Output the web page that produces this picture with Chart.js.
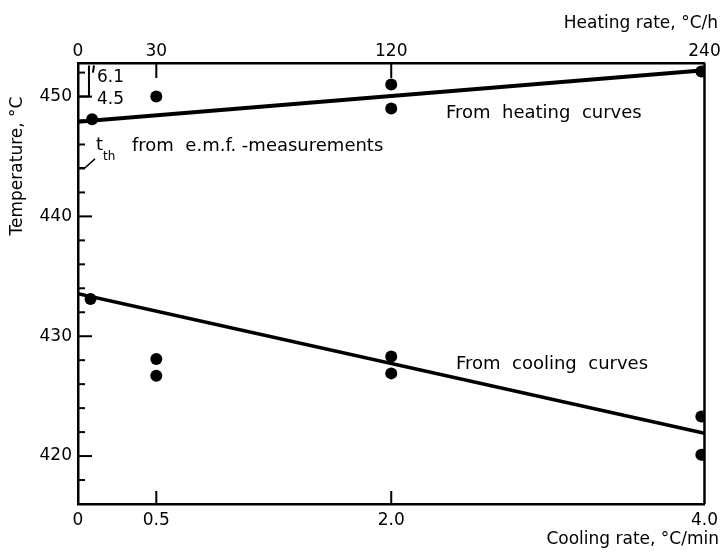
<!DOCTYPE html>
<html>
<head>
<meta charset="utf-8">
<script src="https://cdn.jsdelivr.net/npm/chart.js@4"></script>
<style>
  html, body { margin: 0; padding: 0; background: #fff; }
  #wrap { width: 724px; height: 554px; }
</style>
</head>
<body>
<div id="wrap"><canvas id="chart"></canvas></div>
<script>
// cooling rate in °C/min (bottom axis), heating rate in °C/h shares the same positions (top axis)
var coolTicks = [0, 0.5, 2.0, 4.0];
var coolTickLabels = ['0', '0.5', '2.0', '4.0'];
var heatTickLabels = ['0', '30', '120', '240'];
var tempLabels = [420, 430, 440, 450];

// measured points, heating curves
var heatX = [0.09, 0.5, 2.0, 2.0, 3.98];
var heatY = [448.1, 450.0, 451.0, 449.0, 452.1];
// measured points, cooling curves
var coolX = [0.08, 0.5, 0.5, 2.0, 2.0, 3.98, 3.98];
var coolY = [433.1, 428.1, 426.7, 428.3, 426.9, 423.3, 420.1];

// straight lines drawn through them
var heatFitX = [0, 4];
var heatFitY = [447.9, 452.2];
var coolFitX = [0, 4];
var coolFitY = [433.55, 421.9];

function pairs(xs, ys) {
  return xs.map(function(x, i) { return {x: x, y: ys[i]}; });
}

var FONT = '"DejaVu Sans", sans-serif';

var extras = {
  id: 'extras',
  afterDraw: function(chart) {
    var ctx = chart.ctx;
    var a = chart.chartArea;
    var x = chart.scales.x, y = chart.scales.y;
    ctx.save();
    ctx.strokeStyle = '#000';
    ctx.fillStyle = '#000';
    ctx.lineCap = 'butt';

    // right border
    ctx.lineWidth = 2.5;
    ctx.beginPath();
    ctx.moveTo(a.right, a.top);
    ctx.lineTo(a.right, a.bottom);
    ctx.stroke();

    // inward ticks on temperature axis
    ctx.lineWidth = 2;
    y.ticks.forEach(function(t) {
      var py = y.getPixelForValue(t.value);
      var len = tempLabels.indexOf(t.value) >= 0 ? 14 : 7;
      ctx.beginPath();
      ctx.moveTo(a.left, py);
      ctx.lineTo(a.left + len, py);
      ctx.stroke();
    });
    // inward ticks on rate axes
    coolTicks.slice(1, -1).forEach(function(v) {
      var px = x.getPixelForValue(v);
      ctx.beginPath();
      ctx.moveTo(px, a.bottom);
      ctx.lineTo(px, a.bottom - 13);
      ctx.moveTo(px, a.top);
      ctx.lineTo(px, a.top + 15);
      ctx.stroke();
    });

    // bracket near the origin (6.1 / 4.5)
    var bx = x.getPixelForValue(0.07);
    ctx.beginPath();
    ctx.moveTo(a.left, y.getPixelForValue(450));
    ctx.lineTo(bx, y.getPixelForValue(450));
    ctx.lineTo(bx, y.getPixelForValue(452.6));
    ctx.moveTo(bx + 5, y.getPixelForValue(452.6));
    ctx.lineTo(bx + 4, y.getPixelForValue(452.0));
    ctx.stroke();

    // leader from t_th label to axis
    var ly = y.getPixelForValue(444.05);
    ctx.lineWidth = 1.5;
    ctx.beginPath();
    ctx.moveTo(a.left, ly);
    ctx.lineTo(a.left + 7, ly);
    ctx.lineTo(a.left + 17, ly - 9);
    ctx.stroke();

    ctx.textBaseline = 'middle';
    ctx.textAlign = 'left';
    ctx.font = '17px ' + FONT;
    ctx.fillText('6.1', 97, 78);
    ctx.fillText('4.5', 97, 100);

    ctx.font = '18px ' + FONT;
    ctx.fillText('t', 96, 145);
    ctx.font = '12px ' + FONT;
    ctx.fillText('th', 103, 157);
    ctx.font = '18px ' + FONT;
    ctx.fillText('from  e.m.f. -measurements', 132, 146);

    ctx.fillText('From  heating  curves', 446, 113);
    ctx.fillText('From  cooling  curves', 456, 364);

    // axis titles
    ctx.font = '17px ' + FONT;
    ctx.textAlign = 'right';
    ctx.fillText('Heating rate, \u00b0C/h', 718, 24);
    ctx.fillText('Cooling rate, \u00b0C/min', 719, 540);

    ctx.translate(18, 166);
    ctx.rotate(-Math.PI / 2);
    ctx.textAlign = 'center';
    ctx.fillText('Temperature, \u00b0C', 0, 0);
    ctx.restore();
  }
};

var ctx = document.getElementById('chart').getContext('2d');
var chart = new Chart(ctx, {
  type: 'scatter',
  data: {
    datasets: [{
      type: 'line',
      data: pairs(heatFitX, heatFitY),
      borderColor: '#000',
      borderWidth: 4,
      pointRadius: 0,
      fill: false
    }, {
      type: 'line',
      data: pairs(coolFitX, coolFitY),
      borderColor: '#000',
      borderWidth: 3.5,
      pointRadius: 0,
      fill: false
    }, {
      data: pairs(heatX, heatY),
      backgroundColor: '#000',
      borderWidth: 0,
      pointRadius: 6,
      clip: 0
    }, {
      data: pairs(coolX, coolY),
      backgroundColor: '#000',
      borderWidth: 0,
      pointRadius: 6,
      clip: 0
    }]
  },
  options: {
    responsive: true,
    maintainAspectRatio: false,
    animation: false,
    layout: { padding: { left: 0, right: 17, top: 0, bottom: 0 } },
    plugins: { legend: { display: false }, tooltip: { enabled: false } },
    scales: {
      x: {
        type: 'linear',
        position: 'bottom',
        min: 0, max: 4,
        afterBuildTicks: function(s) { s.ticks = coolTicks.map(function(v) { return {value: v}; }); },
        afterFit: function(s) { s.height = 50; },
        ticks: {
          color: '#000', padding: 6, maxRotation: 0, autoSkip: false,
          font: { family: FONT, size: 17 },
          callback: function(v, i) { return coolTickLabels[i]; }
        },
        grid: { display: false, drawTicks: false },
        border: { display: true, color: '#000', width: 2.5 }
      },
      x2: {
        type: 'linear',
        position: 'top',
        min: 0, max: 4,
        afterBuildTicks: function(s) { s.ticks = coolTicks.map(function(v) { return {value: v}; }); },
        afterFit: function(s) { s.height = 63; },
        ticks: {
          color: '#000', padding: 1, maxRotation: 0, autoSkip: false,
          font: { family: FONT, size: 17 },
          callback: function(v, i) { return heatTickLabels[i]; }
        },
        grid: { display: false, drawTicks: false },
        border: { display: true, color: '#000', width: 2.5 }
      },
      y: {
        type: 'linear',
        min: 416, max: 452.8,
        afterFit: function(s) { s.width = 78; },
        ticks: {
          stepSize: 2, includeBounds: false,
          color: '#000', padding: 6,
          font: { family: FONT, size: 17 },
          callback: function(v) { return tempLabels.indexOf(v) >= 0 ? String(v) : ''; }
        },
        grid: { display: false, drawTicks: false },
        border: { display: true, color: '#000', width: 2.5 }
      }
    }
  },
  plugins: [extras]
});
</script>
</body>
</html>
